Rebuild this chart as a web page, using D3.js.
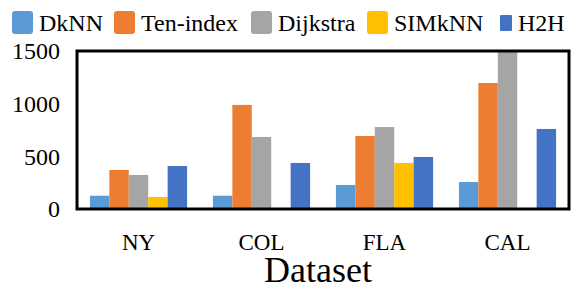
<!DOCTYPE html>
<html>
<head>
<meta charset="utf-8">
<script src="https://cdn.jsdelivr.net/npm/d3@7"></script>
<style>
  body { margin: 0; background: #fff; }
  svg text { font-family: "Liberation Serif", "Times New Roman", serif !important; fill: #000; }
</style>
</head>
<body>
<div id="chart"></div>
<script>
// 数据
const datasets = ['NY', 'COL', 'FLA', 'CAL'];
const methods = ['DkNN', 'Ten-index', 'Dijkstra', 'SIMkNN', 'H2H'];
const colors = ['#5b9bd5', '#ed7d31', '#a5a5a5', '#ffc000', '#4472c4'];
const dkNN = [126, 126, 228, 256];
const tenIndex = [370, 988, 693, 1196];
const dijkstra = [323, 684, 778, 1500];
const simKNN = [114, null, 437, null];
const h2h = [408, 437, 494, 760];
const yTicks = [0, 500, 1000, 1500];

const series = [dkNN, tenIndex, dijkstra, simKNN, h2h];

const width = 588, height = 299;
const margin = { left: 77, right: 19, top: 51, bottom: 90 };

const svg = d3.select('#chart').append('svg')
  .attr('width', width).attr('height', height);

const x0 = d3.scaleBand().domain(datasets)
  .range([margin.left, width - margin.right])
  .paddingInner(0.21).paddingOuter(0.105);
const x1 = d3.scaleBand().domain(methods).range([0, x0.bandwidth()]);
const y = d3.scaleLinear().domain([0, 1500]).range([height - margin.bottom, margin.top]);

// 柱子
const rows = [];
datasets.forEach((ds, i) => {
  methods.forEach((m, j) => {
    if (series[j][i] != null) rows.push({ ds: ds, m: m, v: series[j][i], c: colors[j] });
  });
});
svg.append('g').selectAll('rect').data(rows).enter()
  .append('rect')
  .attr('x', d => x0(d.ds) + x1(d.m))
  .attr('width', x1.bandwidth())
  .attr('y', d => y(d.v))
  .attr('height', d => y(0) - y(d.v))
  .attr('fill', d => d.c);

// 外框
svg.append('rect')
  .attr('x', margin.left).attr('y', margin.top)
  .attr('width', width - margin.left - margin.right)
  .attr('height', height - margin.top - margin.bottom)
  .attr('fill', 'none').attr('stroke', '#000').attr('stroke-width', 3);

// Y轴
const yAxis = svg.append('g')
  .attr('transform', 'translate(' + (margin.left - 17) + ',0)')
  .call(d3.axisLeft(y).tickValues(yTicks).tickFormat(d3.format('d')).tickSize(0).tickPadding(0));
yAxis.select('.domain').remove();
yAxis.attr('font-family', null).attr('font-size', null);
yAxis.selectAll('text').style('font-size', '24px').attr('dy', '0.33em');

// X轴
const xAxis = svg.append('g')
  .attr('transform', 'translate(0,' + (height - margin.bottom) + ')')
  .call(d3.axisBottom(x0).tickSize(0).tickPadding(0));
xAxis.select('.domain').remove();
xAxis.attr('font-family', null).attr('font-size', null);
xAxis.selectAll('text').style('font-size', '23px').attr('y', 41).attr('dy', 0);

svg.append('text')
  .attr('x', (margin.left + width - margin.right) / 2 - 5)
  .attr('y', 282)
  .attr('text-anchor', 'middle')
  .style('font-size', '36px')
  .text('Dataset');

// 图例
const legendX = [12, 114, 251, 367, 500];
const legend = svg.append('g').selectAll('g').data(methods).enter()
  .append('g');
legend.append('rect')
  .attr('x', (d, i) => legendX[i])
  .attr('y', (d, i) => i === 4 ? 15 : 11)
  .attr('width', (d, i) => i === 4 ? 12 : 21)
  .attr('height', (d, i) => i === 4 ? 16 : 23)
  .attr('rx', (d, i) => i === 4 ? 1 : 3)
  .attr('fill', (d, i) => colors[i]);
legend.append('text')
  .attr('x', (d, i) => legendX[i] + (i === 4 ? 18 : 27))
  .attr('y', 31)
  .style('font-size', '24px')
  .text(d => d);
</script>
</body>
</html>
